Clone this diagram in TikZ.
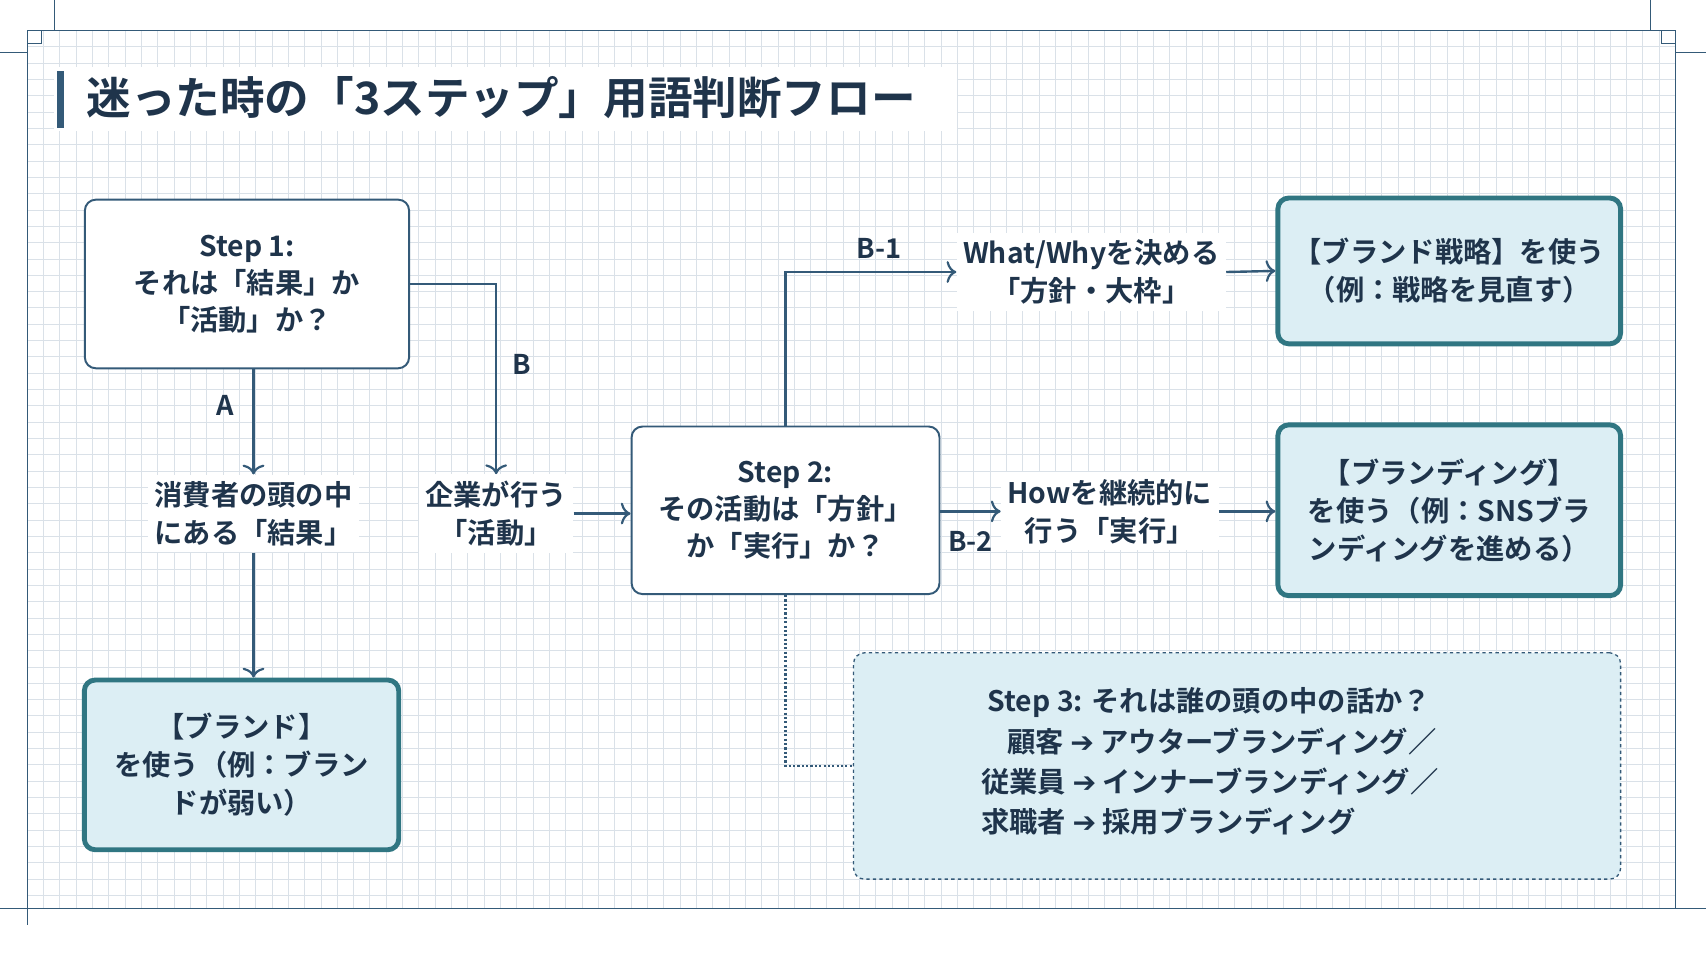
\documentclass[tikz,border=0pt]{standalone}
\usepackage{fontspec}
\setmainfont{Noto Sans CJK JP}[BoldFont={* Bold}]
\newfontfamily\symfont{DejaVu Sans}
\usetikzlibrary{positioning,arrows.meta}
\definecolor{navy}{RGB}{31,52,75}
\definecolor{linec}{RGB}{52,90,120}
\definecolor{teal}{RGB}{48,118,130}
\definecolor{pale}{RGB}{220,238,244}
\definecolor{gridc}{RGB}{218,225,232}
\newcommand{\goarrow}{{\symfont\bfseries ➔}}
\tikzset{
  step box/.style={draw=linec, line width=1.8pt, rounded corners=10pt, fill=white, align=center,
    font=\fontsize{26}{34}\selectfont\bfseries, text=navy},
  result box/.style={draw=teal, line width=4.5pt, rounded corners=10pt, fill=pale, align=center,
    font=\fontsize{26}{35}\selectfont\bfseries, text=navy},
  mid text/.style={fill=white, align=center, inner sep=6pt, font=\fontsize{26}{35}\selectfont\bfseries, text=navy},
  tag/.style={font=\fontsize{25}{28}\selectfont\bfseries, text=navy},
  flow/.style={draw=linec, line width=2.2pt, -{To[length=9pt,width=20pt,line width=2pt]}},
}
\begin{document}
\begin{tikzpicture}[x=1pt,y=-1pt]
    \useasboundingbox (0,0) rectangle (1568,881);
    \fill[white] (0,0) rectangle (1568,881);
    % grid paper
    \foreach \gx in {40,55,...,1530} \draw[gridc, line width=0.8pt] (\gx,28) -- (\gx,835);
    \foreach \gy in {43,58,...,830} \draw[gridc, line width=0.8pt] (25,\gy) -- (1540,\gy);
    \draw[linec, line width=1.2pt] (25,28) rectangle (1540,835);
    \draw[linec, line width=1.2pt] (50,0) -- (50,28) (1517,0) -- (1517,28) (0,48) -- (25,48) (1540,48) -- (1568,48)
      (0,835) -- (25,835) (1540,835) -- (1568,835) (25,835) -- (25,850);
    \draw[linec, line width=1.2pt] (25,28) rectangle (38,40) (1527,28) rectangle (1540,40);
    % title
    \fill[white] (50,62) rectangle (880,120);
    \fill[linec] (52,65) rectangle (59,118);
    \node[anchor=west, text=navy, font=\fontsize{41}{44}\selectfont\bfseries] (title) at (76,90) {迷った時の「3ステップ」用語判断フロー};
    % boxes
    \node[step box, minimum width=298pt, minimum height=155pt] (step1) at (227,261) {Step 1:\\それは「結果」か\\「活動」か？};
    \node[step box, minimum width=283pt, minimum height=154pt] (step2) at (722,469) {Step 2:\\その活動は「方針」\\か「実行」か？};
    \node[result box, minimum width=289pt, minimum height=156pt] (brand) at (222,703) {【ブランド】\\を使う（例：ブラン\\ドが弱い）};
    \node[result box, minimum width=315pt, minimum height=134pt] (strategy) at (1332,249) {【ブランド戦略】を使う\\（例：戦略を見直す）};
    \node[result box, minimum width=315pt, minimum height=157pt] (branding) at (1332,469) {【ブランディング】\\を使う（例：SNSブラ\\ンディングを進める）};
    \node[draw=linec, dashed, line width=1.2pt, rounded corners=10pt, fill=pale, minimum width=705pt, minimum height=208pt] (step3) at (1137,704) {};
    \node[align=left, text=navy, font=\fontsize{26}{37}\selectfont\bfseries] (step3text) at (1112,700)
      {\hspace*{6pt}Step 3: それは誰の頭の中の話か？\\\hspace*{24pt}顧客 \goarrow\ アウターブランディング／\\従業員 \goarrow\ インナーブランディング／\\求職者 \goarrow\ 採用ブランディング};
    % in-between texts
    \node[mid text] (result) at (233,472) {消費者の頭の中\\にある「結果」};
    \node[mid text] (activity) at (456,472) {企業が行う\\「活動」};
    \node[mid text] (policy) at (1003,250) {What/Whyを決める\\「方針・大枠」};
    \node[mid text] (exec) at (1020,470) {Howを継続的に\\行う「実行」};
    \coordinate (b1turn) at (step2.north |- policy);
    \coordinate (dotturn) at (step2.south |- step3.west);
    % connectors
    \draw[flow] (step1.south -| result) -- (result.north);
    \draw[flow] (result.south) -- (brand.north -| result);
    \draw[flow] (step1.east) -| (activity.north);
    \draw[flow] (activity.east) -- (step2.west |- activity.east);
    \draw[flow] (step2.north) -- (b1turn) -- (policy.west);
    \draw[flow] (step2.east |- exec) -- (exec.west);
    \draw[flow] (policy.east) -- (strategy.west);
    \draw[flow] (exec.east) -- (branding.west |- exec);
    \draw[linec, line width=2pt, dotted] (step2.south) -- (dotturn) -- (step3.west);
    % branch tags
    \node[tag] (tagA) at (207,373) {A};
    \node[tag] (tagB) at (480,335) {B};
    \node[tag] (tagB1) at (808,228) {B-1};
    \node[tag] (tagB2) at (892,498) {B-2};
\end{tikzpicture}
\end{document}
